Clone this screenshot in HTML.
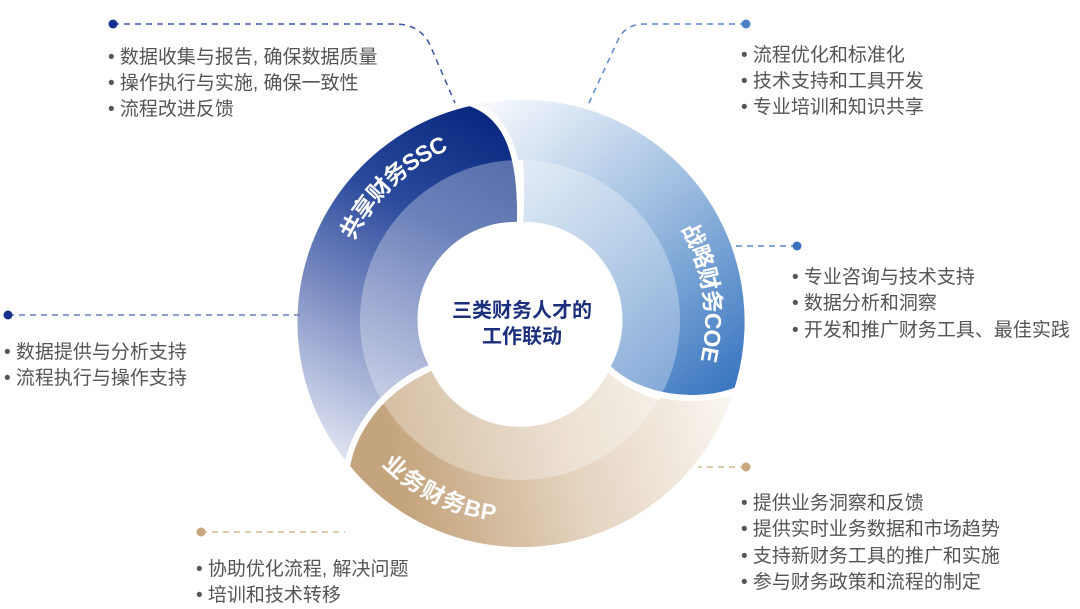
<!DOCTYPE html>
<html><head><meta charset="utf-8"><style>
html,body{margin:0;padding:0;background:#fff;}
svg{display:block;}
.t{font-family:"Liberation Sans","Noto Sans CJK SC",sans-serif;font-size:19px;fill:#555;}
.lab{font-family:"Liberation Sans","Noto Sans CJK SC",sans-serif;font-size:23px;font-weight:bold;fill:#fff;}
</style></head><body>
<svg width="1080" height="609" viewBox="0 0 1080 609" xmlns="http://www.w3.org/2000/svg">
<defs>
<linearGradient id="gs" gradientUnits="userSpaceOnUse" x1="500" y1="120" x2="320" y2="470">
<stop offset="0" stop-color="#082880"/><stop offset="0.3" stop-color="#2a4a9c"/><stop offset="0.6" stop-color="#8090c4"/><stop offset="1" stop-color="#eef0f8"/></linearGradient>
<linearGradient id="gc" gradientUnits="userSpaceOnUse" x1="500" y1="100" x2="740" y2="380">
<stop offset="0" stop-color="#f4f7fc"/><stop offset="0.5" stop-color="#9dbde0"/><stop offset="1" stop-color="#3a76c0"/></linearGradient>
<linearGradient id="gb" gradientUnits="userSpaceOnUse" x1="400" y1="480" x2="730" y2="400">
<stop offset="0" stop-color="#c4a47c"/><stop offset="0.5" stop-color="#e4d3bf"/><stop offset="1" stop-color="#faf6f1"/></linearGradient>
<path id="ps" d="M 330.6 351.2 A 193 193 0 0 1 560.1 131.1" fill="none"/>
<path id="pc" d="M 616.5 152.9 A 193 193 0 0 1 669.5 442.2" fill="none"/>
<path id="pb" d="M 339.3 378.9 A 190 190 0 0 0 561.3 510.5" fill="none"/>
</defs>
<path d="M 347 467 A 225 225 0 0 1 470 103 C 505 115 522 150 520 225 A 95 95 0 0 0 433 367 C 395 380 355 420 347 467 Z" fill="url(#gs)" stroke="#fff" stroke-width="6"/>
<path d="M 470 103 A 225 225 0 0 1 737 390 C 700 405 640 400 607 367 A 95 95 0 0 0 520 225 C 522 150 505 115 470 103 Z" fill="url(#gc)" stroke="#fff" stroke-width="6"/>
<path d="M 737 390 A 225 225 0 0 1 347 467 C 355 420 395 380 433 367 A 95 95 0 0 0 607 367 C 640 400 700 405 737 390 Z" fill="url(#gb)" stroke="#fff" stroke-width="6"/>
<circle cx="520" cy="320" r="160" fill="#fff" opacity="0.3"/>
<path d="M 520 160 C 522 190 521 205 520 225" stroke="#fff" stroke-width="6" fill="none"/>
<path d="M 607 367 C 620 380 640 392 660 397" stroke="#fff" stroke-width="6" fill="none"/>
<path d="M 433 367 C 410 377 392 390 380 403" stroke="#fff" stroke-width="6" fill="none"/>
<circle cx="520" cy="320" r="95" fill="#fff"/>
<text class="lab" dominant-baseline="central"><textPath href="#ps" startOffset="50%" text-anchor="middle">共享财务SSC</textPath></text>
<text class="lab" dominant-baseline="central"><textPath href="#pc" startOffset="52%" text-anchor="middle">战略财务COE</textPath></text>
<text class="lab" dominant-baseline="central"><textPath href="#pb" startOffset="55%" text-anchor="middle">业务财务BP</textPath></text>
<text x="522" y="317" text-anchor="middle" font-family="Liberation Sans,Noto Sans CJK SC,sans-serif" font-size="20" font-weight="bold" fill="#1b2f7c">三类财务人才的</text>
<text x="522" y="343" text-anchor="middle" font-family="Liberation Sans,Noto Sans CJK SC,sans-serif" font-size="20" font-weight="bold" fill="#1b2f7c">工作联动</text>
<g fill="none" stroke-width="1.5" stroke-dasharray="6,5">
<path d="M 113 24 L 395 24 Q 420 24 430 45 L 455 103" stroke="#3b55a8"/>
<path d="M 746 24 L 645 24 Q 625 24 618 40 L 588 105" stroke="#5a8ad0"/>
<path d="M 797 246 L 735 246" stroke="#5a8ad0"/>
<path d="M 8 315 L 300 315" stroke="#6a7fc0"/>
<path d="M 746 467 L 698 467" stroke="#d5b894"/>
<path d="M 201 532 L 345 532" stroke="#d5b894"/>
</g>
<circle cx="113" cy="24" r="4.5" fill="#12308c"/>
<circle cx="746" cy="24" r="4.5" fill="#4a80c8"/>
<circle cx="797" cy="246" r="4.5" fill="#3a72c0"/>
<circle cx="8" cy="315" r="4.5" fill="#12308c"/>
<circle cx="746" cy="467" r="4.5" fill="#c9a77e"/>
<circle cx="201" cy="532" r="4.5" fill="#c9a77e"/>
<g class="t">
<text x="108" y="63">• 数据收集与报告, 确保数据质量</text>
<text x="108" y="89">• 操作执行与实施, 确保一致性</text>
<text x="108" y="115">• 流程改进反馈</text>
<text x="741" y="61">• 流程优化和标准化</text>
<text x="741" y="87">• 技术支持和工具开发</text>
<text x="741" y="113">• 专业培训和知识共享</text>
<text x="792" y="283">• 专业咨询与技术支持</text>
<text x="792" y="309">• 数据分析和洞察</text>
<text x="792" y="336">• 开发和推广财务工具、最佳实践</text>
<text x="4" y="358">• 数据提供与分析支持</text>
<text x="4" y="384">• 流程执行与操作支持</text>
<text x="741" y="509">• 提供业务洞察和反馈</text>
<text x="741" y="535">• 提供实时业务数据和市场趋势</text>
<text x="741" y="562">• 支持新财务工具的推广和实施</text>
<text x="741" y="588">• 参与财务政策和流程的制定</text>
<text x="196" y="575">• 协助优化流程, 解决问题</text>
<text x="196" y="601">• 培训和技术转移</text>
</g>
</svg>
</body></html>
